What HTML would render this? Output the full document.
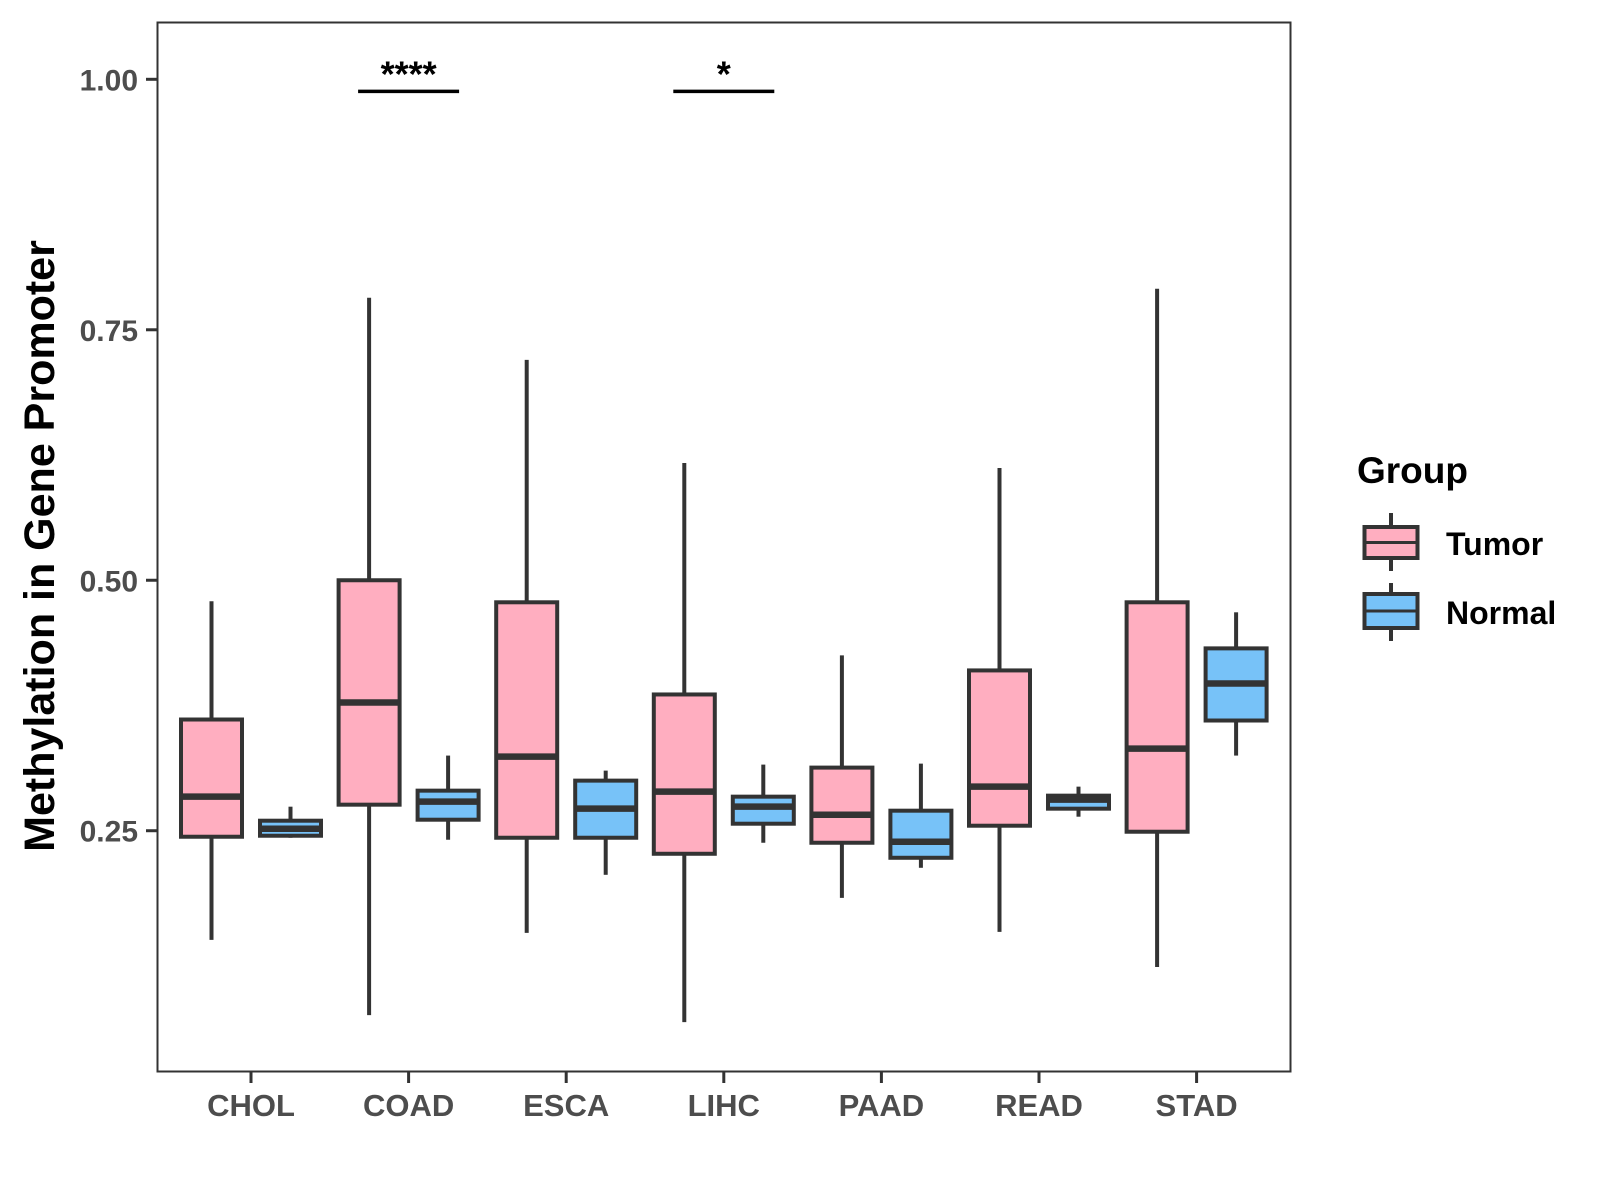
<!DOCTYPE html>
<html><head><meta charset="utf-8"><style>
html,body{margin:0;padding:0;background:#fff;}
svg{display:block;font-family:"Liberation Sans",Arial,sans-serif;font-weight:bold;}
</style></head><body>
<svg id="chart" width="1600" height="1200" viewBox="0 0 1600 1200">
<rect x="157.5" y="22.5" width="1133" height="1049" fill="#fff" stroke="#333" stroke-width="2"/>
<g id="marks"></g>
<text transform="translate(54,546) rotate(-90)" text-anchor="middle" font-size="43" fill="#000">Methylation in Gene Promoter</text>
<g>
<text x="1357" y="483" font-size="37" fill="#000">Group</text>
<g>
<line x1="1391" x2="1391" y1="513" y2="571" stroke="#333" stroke-width="4"/>
<rect x="1364.5" y="527" width="53" height="31" fill="#FFAEC0" stroke="#333" stroke-width="4"/>
<line x1="1364" x2="1418" y1="542.5" y2="542.5" stroke="#333" stroke-width="3"/>
<text x="1446" y="555" font-size="32" fill="#000">Tumor</text>
</g>
<g>
<line x1="1391" x2="1391" y1="583" y2="641" stroke="#333" stroke-width="4"/>
<rect x="1364.5" y="594" width="53" height="34" fill="#77C2F8" stroke="#333" stroke-width="4"/>
<line x1="1364" x2="1418" y1="611" y2="611" stroke="#333" stroke-width="3"/>
<text x="1446" y="624" font-size="32" fill="#000">Normal</text>
</g>
</g>
</svg>
<script>
const categories = ["CHOL","COAD","ESCA","LIHC","PAAD","READ","STAD"];
const tumorLow  = [0.141,0.066,0.148,0.059,0.183,0.149,0.114];
const tumorQ1   = [0.244,0.276,0.243,0.227,0.238,0.255,0.249];
const tumorMed  = [0.284,0.378,0.324,0.289,0.266,0.294,0.332];
const tumorQ3   = [0.361,0.500,0.478,0.386,0.313,0.410,0.478];
const tumorHigh = [0.479,0.782,0.720,0.617,0.425,0.612,0.791];
const normalLow  = [0.243,0.241,0.206,0.238,0.213,0.264,0.325];
const normalQ1   = [0.245,0.261,0.243,0.257,0.223,0.272,0.360];
const normalMed  = [0.252,0.279,0.272,0.274,0.239,0.281,0.397];
const normalQ3   = [0.260,0.290,0.300,0.284,0.270,0.285,0.432];
const normalHigh = [0.274,0.325,0.310,0.316,0.317,0.294,0.468];
const yTicks = [0.25,0.50,0.75,1.00];
const yTickLabels = ["0.25","0.50","0.75","1.00"];
const sigCategories = ["COAD","LIHC"];
const sigLabels = ["****","*"];
const sigLevel = 0.988;

const NS="http://www.w3.org/2000/svg";
const g=document.getElementById('marks');
const svg=document.getElementById('chart');
function yScale(v){return 79.3+(1-v)*1001.9;}
function xScale(i){return 251+i*157.6;}
const OFF=39.5, W=61;
function mk(tag,attrs,parent){const e=document.createElementNS(NS,tag);for(const k in attrs)e.setAttribute(k,attrs[k]);(parent||g).appendChild(e);return e;}

yTicks.forEach((t,i)=>{
  const y=yScale(t);
  const tk=mk('line',{x1:146,x2:157,y1:y,y2:y,stroke:'#333','stroke-width':3});
  
  
  const tx=mk('text',{x:138,y:y+11,'text-anchor':'end','font-size':30,fill:'#4d4d4d'},svg);
  tx.textContent=yTickLabels[i];
  
  
});
categories.forEach((c,i)=>{
  const x=xScale(i);
  const tk=mk('line',{x1:x,x2:x,y1:1072,y2:1083,stroke:'#333','stroke-width':3});
  
  
  const tx=mk('text',{x:x,y:1116,'text-anchor':'middle','font-size':31,fill:'#4d4d4d'},svg);
  tx.textContent=c;
  
  
});
function box(cx,lo,q1,md,q3,hi,fill,name){
  const grp=mk('g',{});
  
  
  mk('line',{x1:cx,x2:cx,y1:yScale(hi),y2:yScale(q3),stroke:'#333','stroke-width':4},grp);
  mk('line',{x1:cx,x2:cx,y1:yScale(q1),y2:yScale(lo),stroke:'#333','stroke-width':4},grp);
  mk('rect',{x:cx-W/2,y:yScale(q3),width:W,height:Math.max(0,yScale(q1)-yScale(q3)),fill:fill,stroke:'#333','stroke-width':4},grp);
  mk('line',{x1:cx-W/2,x2:cx+W/2,y1:yScale(md),y2:yScale(md),stroke:'#333','stroke-width':6.5},grp);
}
categories.forEach((c,i)=>{
  box(xScale(i)-OFF,tumorLow[i],tumorQ1[i],tumorMed[i],tumorQ3[i],tumorHigh[i],'#FFAEC0','box-tumor-'+c.toLowerCase());
  box(xScale(i)+OFF,normalLow[i],normalQ1[i],normalMed[i],normalQ3[i],normalHigh[i],'#77C2F8','box-normal-'+c.toLowerCase());
});
sigCategories.forEach((c,j)=>{
  const i=categories.indexOf(c);
  const y=yScale(sigLevel);
  const ln=mk('line',{x1:xScale(i)-OFF-11,x2:xScale(i)+OFF+11,y1:y,y2:y,stroke:'#000','stroke-width':3.5});
  
  
  const tx=mk('text',{x:xScale(i),y:y-5,'text-anchor':'middle','font-size':36,fill:'#000'});
  tx.textContent=sigLabels[j];
  
  
});
</script>
</body></html>
